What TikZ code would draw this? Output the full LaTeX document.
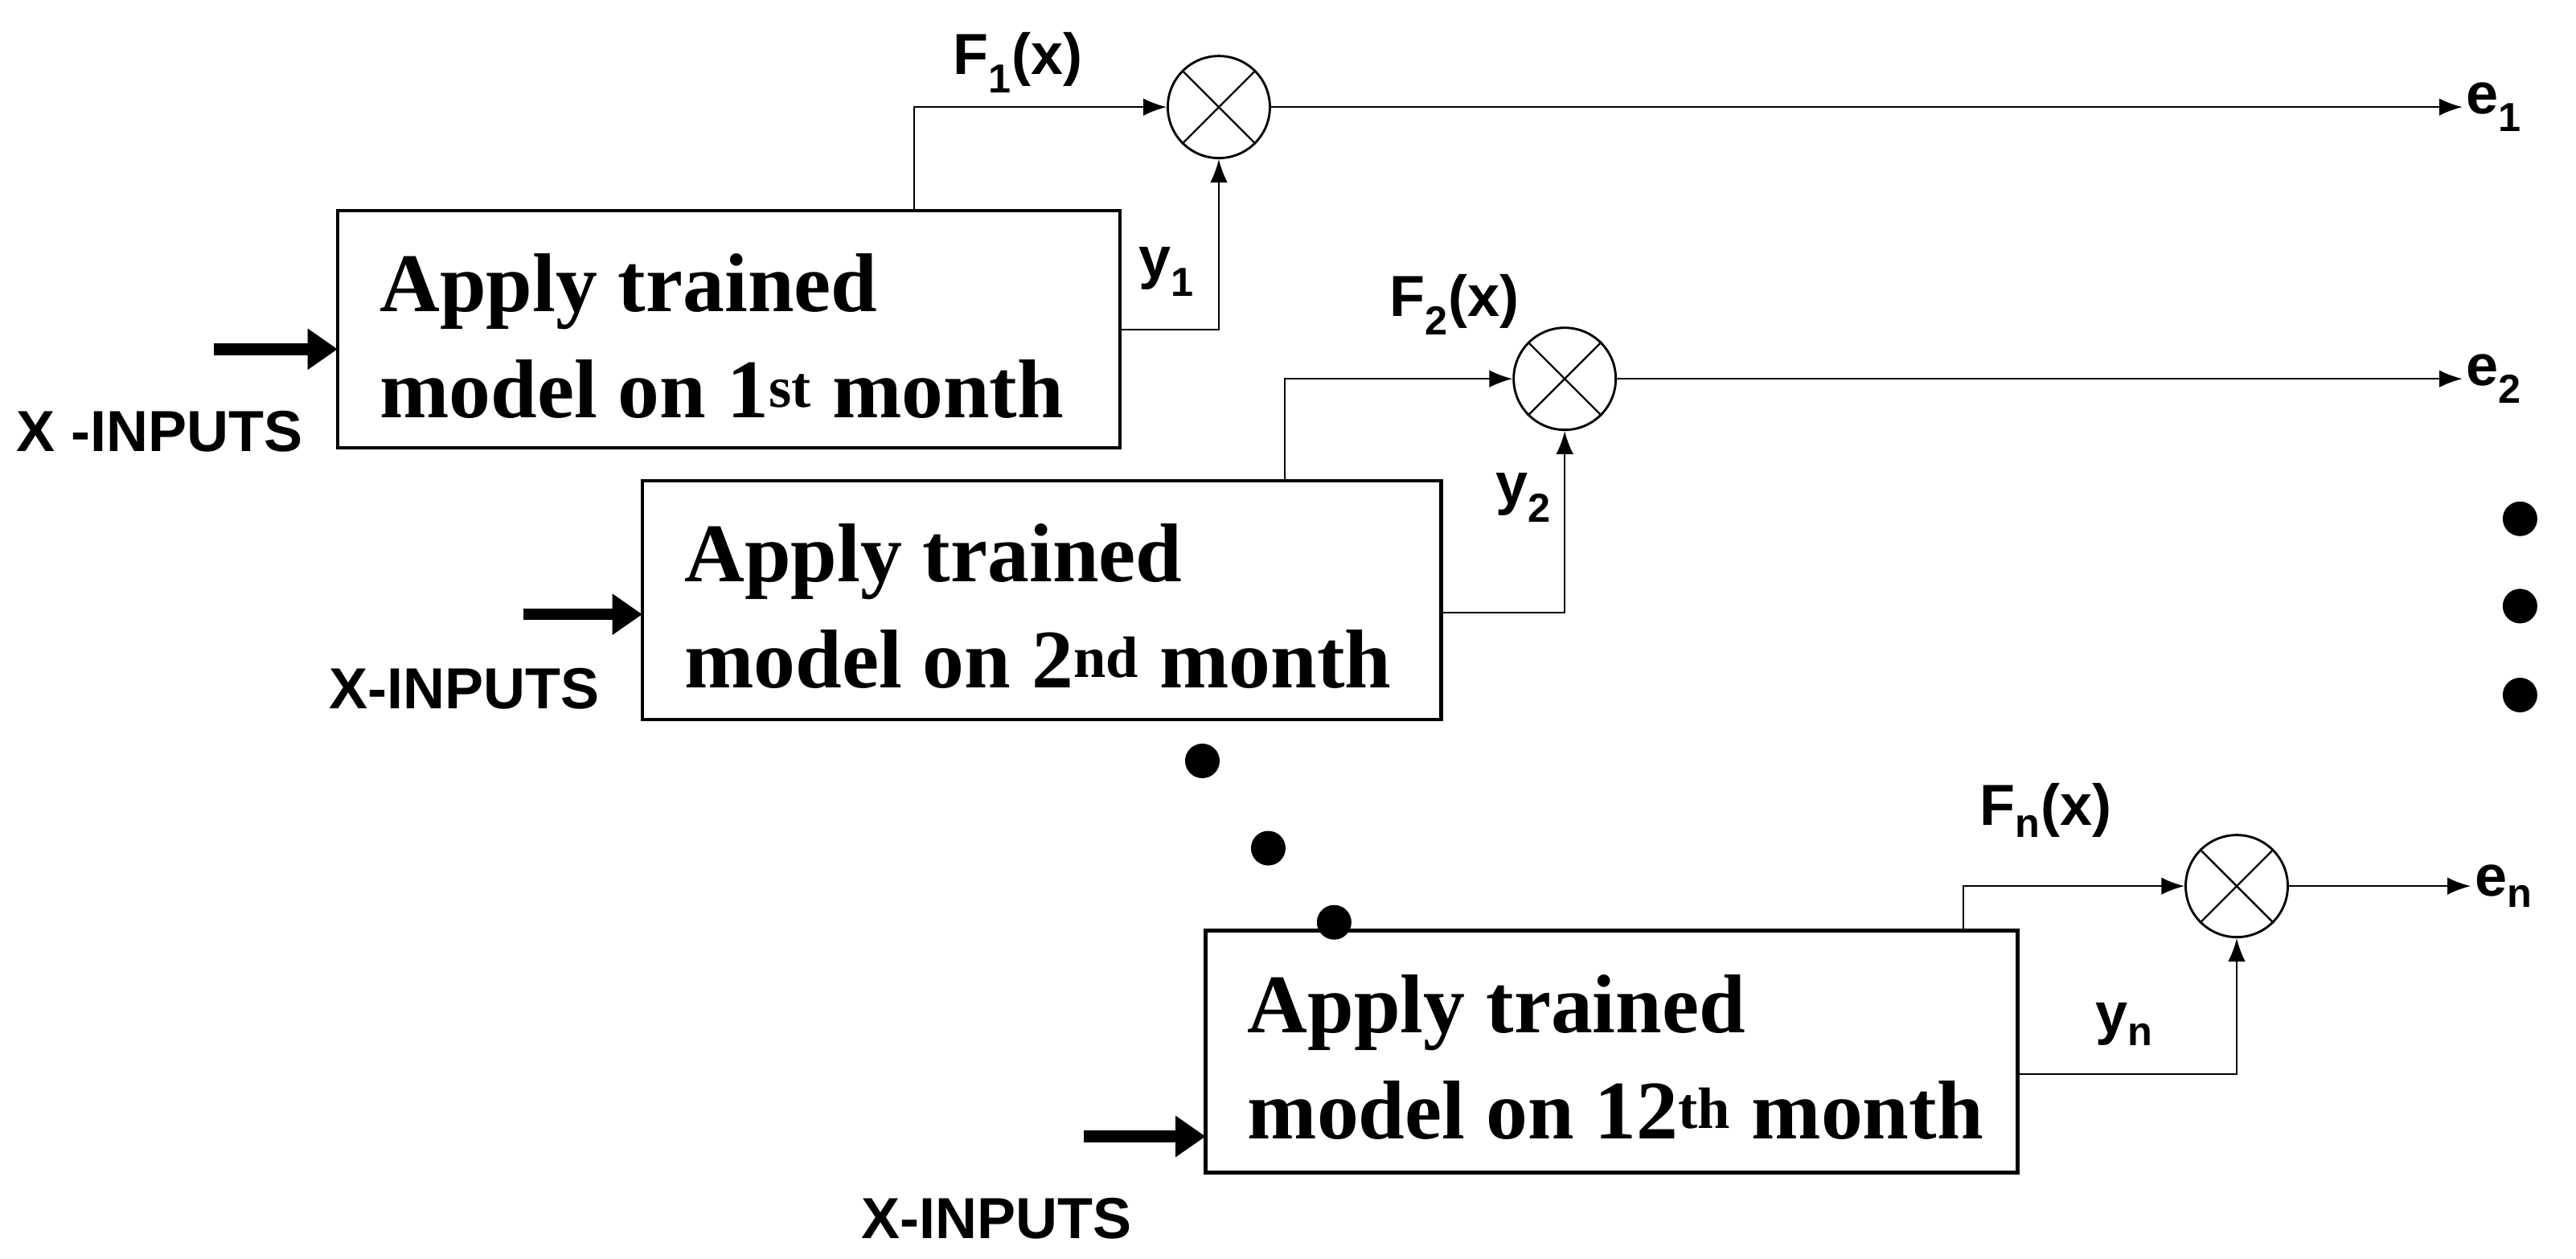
\documentclass[tikz,border=0pt]{standalone}
\usepackage{fontspec}
\setmainfont{Liberation Serif}
\newfontfamily\sansf{Liberation Sans}
\usetikzlibrary{arrows.meta}
\begin{document}
\begin{tikzpicture}[x=0.05cm,y=-0.05cm,
  btxt/.style={font=\fontsize{72}{92}\selectfont\bfseries,align=left},
  lab/.style={font=\sansf\fontsize{50}{60}\selectfont\bfseries},
  mult/.style={draw,circle,line width=2pt,minimum size=3.1cm,inner sep=0pt},
  ln/.style={line width=1.6pt},
  ar/.style={ln,-{Latex[length=20pt,width=15pt]}},
  thick/.style={line width=10pt,-{Triangle[length=26pt,width=34pt]}},
  dot/.style={fill,circle,minimum size=1.05cm,inner sep=0pt}]
\useasboundingbox (0,0) rectangle (1564,764);
\draw[line width=3pt] (205,128) rectangle ++(475,144);
\draw[line width=3pt] (390,292) rectangle ++(485,145);
\draw[line width=3pt] (732,565) rectangle ++(493,147);
\node[btxt,anchor=west] (t1) at (228,204) {Apply trained\\model on 1\textsuperscript{st} month};
\node[btxt,anchor=west] (t2) at (413,368) {Apply trained\\model on 2\textsuperscript{nd} month};
\node[btxt,anchor=west] (t3) at (755,642) {Apply trained\\model on 12\textsuperscript{th} month};
% multipliers
\node[mult] (m1) at (740,65) {};
\node[mult] (m2) at (950,230) {};
\node[mult] (m3) at (1358,538) {};
\foreach \m in {m1,m2,m3}{
  \draw[ln] (\m.north west) -- (\m.south east);
  \draw[ln] (\m.north east) -- (\m.south west);}
% inputs
\coordinate (i1) at (130,212); \coordinate (b1) at (205,212);
\coordinate (i2) at (318,373); \coordinate (b2) at (390,373);
\coordinate (i3) at (658,690); \coordinate (b3) at (732,690);
\draw[thick] (i1) -- (b1);
\draw[thick] (i2) -- (b2);
\draw[thick] (i3) -- (b3);
\node[lab] (x1) at (97,262) {X -INPUTS};
\node[lab] (x2) at (282,418) {X-INPUTS};
\node[lab] (x3) at (605,740) {X-INPUTS};
% F lines
\draw[ar] (555,128) |- (m1.west);
\draw[ar] (780,292) |- (m2.west);
\draw[ar] (1192,565) |- (m3.west);
% y lines
\draw[ar] (680,200) -| (m1.south);
\draw[ar] (875,372) -| (m2.south);
\draw[ar] (1225,652) -| (m3.south);
% labels
\node[lab] (f1) at (618,38) {F\textsubscript{1}(x)};
\node[lab] (f2) at (883,185) {F\textsubscript{2}(x)};
\node[lab] (f3) at (1242,492) {F\textsubscript{n}(x)};
\node[lab] (y1) at (708,165) {y\textsubscript{1}};
\node[lab] (y2) at (925,302) {y\textsubscript{2}};
\node[lab] (y3) at (1290,622) {y\textsubscript{n}};
% outputs
\node[lab,anchor=west] (e1) at (1495,65) {e\textsubscript{1}};
\node[lab,anchor=west] (e2) at (1495,230) {e\textsubscript{2}};
\node[lab,anchor=west] (e3) at (1500,538) {e\textsubscript{n}};
\draw[ar] (m1.east) -- (e1.west);
\draw[ar] (m2.east) -- (e2.west);
\draw[ar] (m3.east) -- (e3.west);
% dots
\foreach \p/\x/\y in {d1/730/462,d2/770/515,d3/810/560,d4/1530/315,d5/1530/368,d6/1530/422}
  \node[dot] (\p) at (\x,\y) {};
\end{tikzpicture}
\end{document}
